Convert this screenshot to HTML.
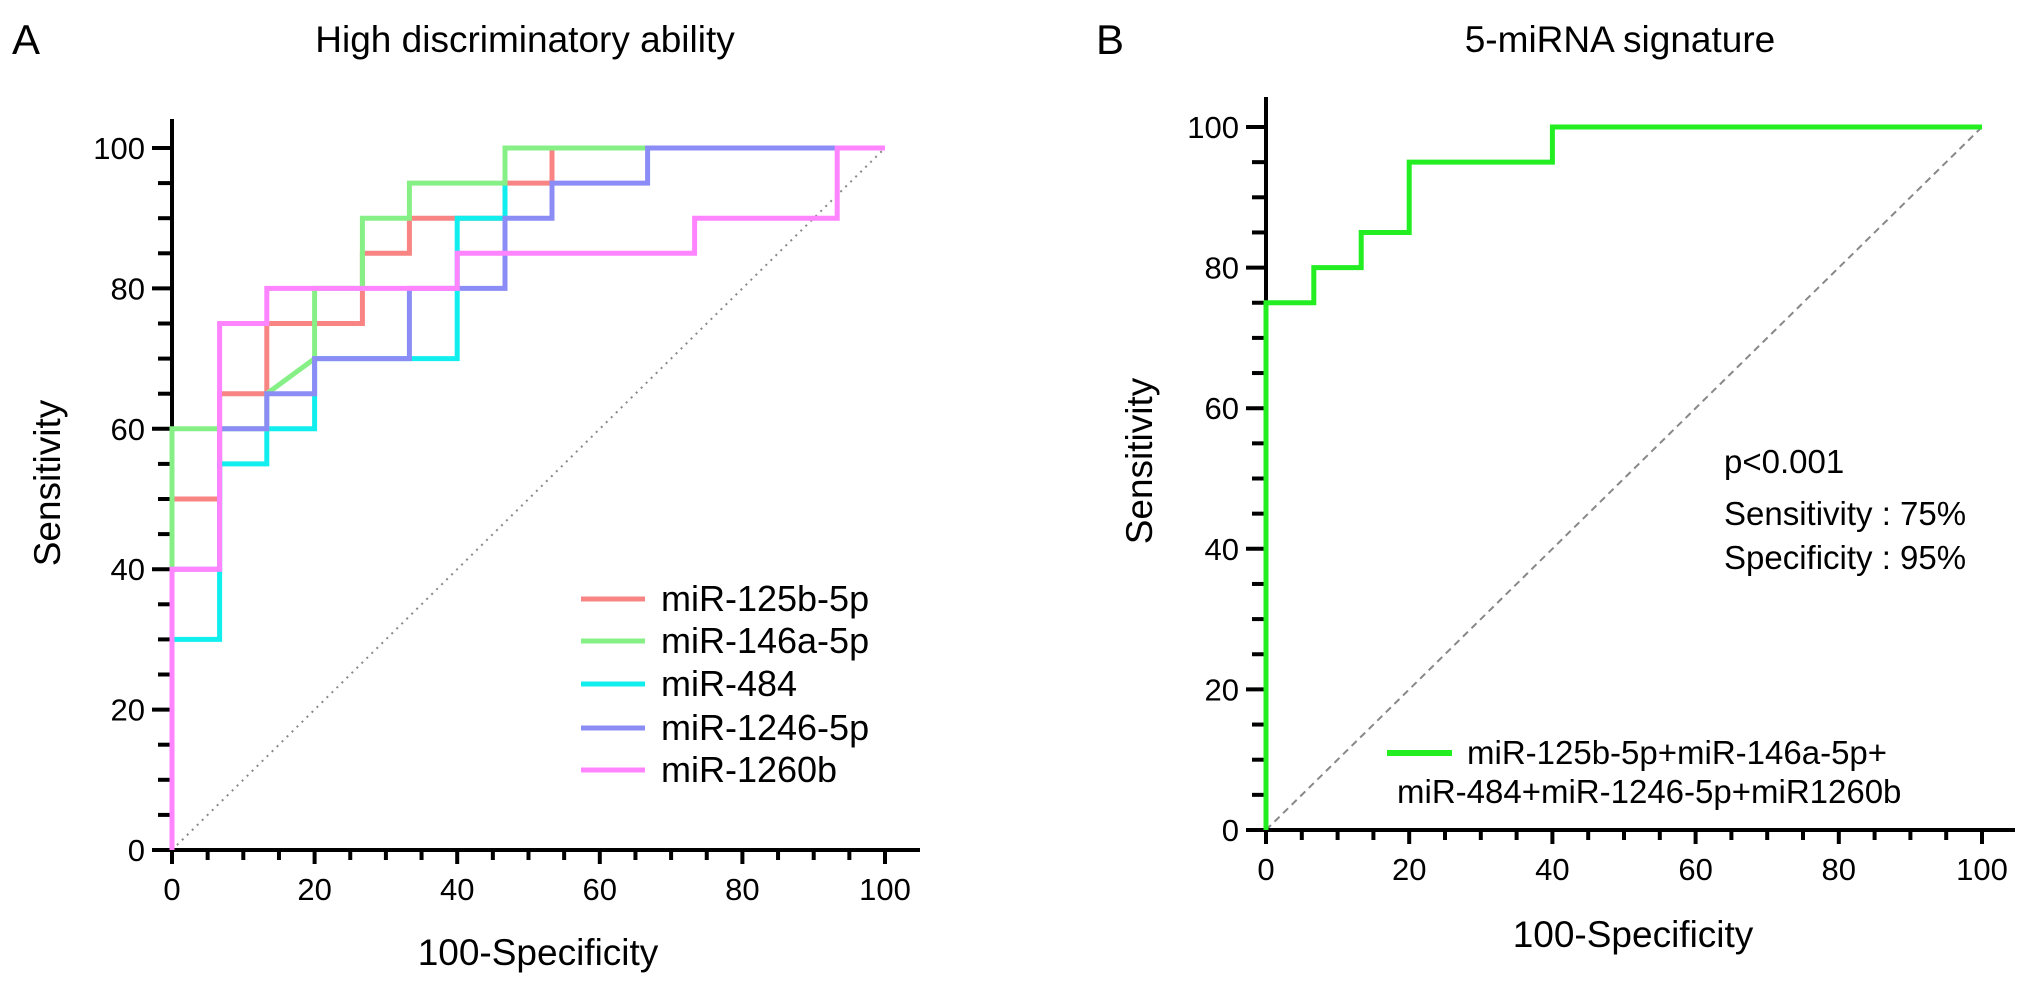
<!DOCTYPE html>
<html><head><meta charset="utf-8"><style>
html,body{margin:0;padding:0;background:#fff;}
svg{display:block;font-family:"Liberation Sans",Arial,sans-serif;}
</style></head><body>
<svg id="chart" width="2032" height="984" viewBox="0 0 2032 984" xmlns="http://www.w3.org/2000/svg">
<text x="12" y="54" font-size="42">A</text>
<text x="525" y="52" font-size="37" text-anchor="middle">High discriminatory ability</text>
<text x="1096" y="54" font-size="42">B</text>
<text x="1620" y="52" font-size="37" text-anchor="middle">5-miRNA signature</text>
<g id="pa"></g><g id="pb"></g>
</svg>
<script>
const ticks = [0,20,40,60,80,100];
const seriesNames = ["miR-125b-5p","miR-146a-5p","miR-484","miR-1246-5p","miR-1260b"];
const seriesColors = ["#f88484","#86f086","#11eeee","#8c8cf6","#ff84ff"];
const s125X = [0,0,6.67,6.67,13.3,13.3,26.7,26.7,33.3,33.3,46.7,46.7,53.3,53.3,100];
const s125Y = [0,50,50,65,65,75,75,85,85,90,90,95,95,100,100];
const s146X = [0,0,13.3,13.3,20,20,26.7,26.7,33.3,33.3,46.7,46.7,100];
const s146Y = [0,60,60,65,70,80,80,90,90,95,95,100,100];
const s484X = [0,0,6.67,6.67,13.3,13.3,20,20,40,40,46.7,46.7,100];
const s484Y = [0,30,30,55,55,60,60,70,70,90,90,100,100];
const s1246X = [0,0,6.67,6.67,13.3,13.3,20,20,33.3,33.3,46.7,46.7,53.3,53.3,66.7,66.7,100];
const s1246Y = [0,40,40,60,60,65,65,70,70,80,80,90,90,95,95,100,100];
const s1260X = [0,0,6.67,6.67,13.3,13.3,40,40,73.3,73.3,93.3,93.3,100];
const s1260Y = [0,40,40,75,75,80,80,85,85,90,90,100,100];
const sigX = [0,0,6.67,6.67,13.3,13.3,20,20,40,40,100];
const sigY = [0,75,75,80,80,85,85,95,95,100,100];

const NS="http://www.w3.org/2000/svg";
function mk(parent,tag,attrs,txt){const e=document.createElementNS(NS,tag);for(const k in attrs)e.setAttribute(k,attrs[k]);if(txt!==undefined)e.textContent=txt;parent.appendChild(e);return e;}

function axes(g,P,prefix){
  const sx=v=>P.x0+(P.x1-P.x0)*v/100, sy=v=>P.y0+(P.y1-P.y0)*v/100;
  const d=mk(g,'line',{x1:sx(0),y1:sy(0),x2:sx(100),y2:sy(100),stroke:'#888','stroke-width':2,'stroke-dasharray':P.dash});
  
  
  for(let v=0;v<=100;v+=5){
    const major=v%20===0, L=major?14:10;
    const t1=mk(g,'line',{x1:sx(v),y1:P.y0,x2:sx(v),y2:P.y0+L,stroke:'#000','stroke-width':4});
    
    
    const t2=mk(g,'line',{x1:P.x0,y1:sy(v),x2:P.x0-(major?20:14),y2:sy(v),stroke:'#000','stroke-width':4});
    
    
  }
  ticks.forEach(v=>{
    const a=mk(g,'text',{x:sx(v),y:P.y0+50,'font-size':31,'text-anchor':'middle'},String(v));
    
    
    const b=mk(g,'text',{x:P.x0-27,y:sy(v)+11,'font-size':31,'text-anchor':'end'},String(v));
    
    
  });
  const xa=mk(g,'line',{x1:P.x0-2,y1:P.y0,x2:P.xEnd,y2:P.y0,stroke:'#000','stroke-width':4});
  
  
  const ya=mk(g,'line',{x1:P.x0,y1:P.y0,x2:P.x0,y2:P.yTop,stroke:'#000','stroke-width':4});
  
  
  const xt=mk(g,'text',{x:P.xtX,y:P.xtY,'font-size':37,'text-anchor':'middle'},'100-Specificity');
  
  
  const yt=mk(g,'text',{x:0,y:0,'font-size':37,'text-anchor':'middle',transform:`translate(${P.ytX},${P.ytY}) rotate(-90)`},'Sensitivity');
  
  
  return [sx,sy];
}
function curve(g,sx,sy,xs,ys,color,w,name){
  const pts=xs.map((x,i)=>sx(x).toFixed(1)+','+sy(ys[i]).toFixed(1)).join(' ');
  const p=mk(g,'polyline',{points:pts,fill:'none',stroke:color,'stroke-width':w,'stroke-linejoin':'miter'});
  
  
}

// Panel A
const gA=document.getElementById('pa');
const PA={x0:172,x1:885,y0:850,y1:148,xEnd:920,yTop:119,dash:'2 5',xtX:538,xtY:965,ytX:60,ytY:483};
const [ax,ay]=axes(gA,PA,'panel-a');
const sXs=[s125X,s146X,s484X,s1246X,s1260X], sYs=[s125Y,s146Y,s484Y,s1246Y,s1260Y];
const drawOrder=[0,2,1,3,4];
drawOrder.forEach(i=>curve(gA,ax,ay,sXs[i],sYs[i],seriesColors[i],5,'roc-curve-'+seriesNames[i].toLowerCase()));
const legY=[599,641,684,728,770];
seriesNames.forEach((n,i)=>{
  const l=mk(gA,'line',{x1:581,y1:legY[i],x2:645,y2:legY[i],stroke:seriesColors[i],'stroke-width':5});
  
  
  const t=mk(gA,'text',{x:661,y:legY[i]+12,'font-size':36},n);
  
  
});

// Panel B
const gB=document.getElementById('pb');
const PB={x0:1266,x1:1982,y0:830,y1:127,xEnd:2015,yTop:97,dash:'7 5',xtX:1633,xtY:947,ytX:1152,ytY:461};
const [bx,by]=axes(gB,PB,'panel-b');
curve(gB,bx,by,sigX,sigY,'#22ee22',5,'roc-curve-5-mirna-signature');
[['p<0.001',461],['Sensitivity : 75%',513],['Specificity : 95%',557]].forEach((a,i)=>{
  const t=mk(gB,'text',{x:1724,y:a[1]+12,'font-size':33},a[0]);
  
  
});
const bl=mk(gB,'line',{x1:1387,y1:753,x2:1452,y2:753,stroke:'#22ee22','stroke-width':6});


const bt1=mk(gB,'text',{x:1467,y:764,'font-size':33},'miR-125b-5p+miR-146a-5p+');


const bt2=mk(gB,'text',{x:1397,y:803,'font-size':33},'miR-484+miR-1246-5p+miR1260b');


</script>
</body></html>
